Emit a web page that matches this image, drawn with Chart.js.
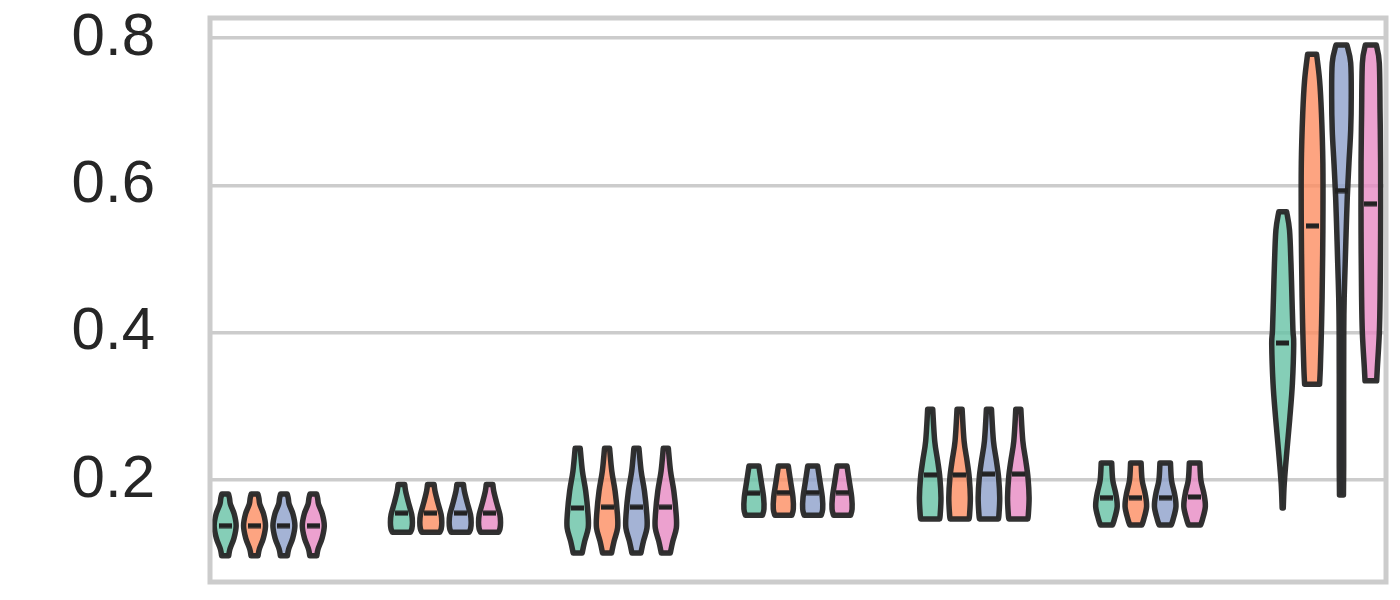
<!DOCTYPE html>
<html><head><meta charset="utf-8">
<script src="https://cdn.jsdelivr.net/npm/chart.js@4.4.1/dist/chart.umd.min.js"></script>
<style>html,body{margin:0;padding:0;background:#fff;}#wrap{width:1400px;height:600px;}</style>
</head><body><div id="wrap"><canvas id="c" width="1400" height="600"></canvas></div>
<script>
// ---- data ----
const categories = ['1','2','3','4','5','6','7'];
const seriesNames = ['A','B','C','D'];
const yTicks = [0.2, 0.4, 0.6, 0.8];
const medianA = [0.138, 0.155, 0.162, 0.182, 0.207, 0.176, 0.386];
const medianB = [0.138, 0.155, 0.163, 0.183, 0.207, 0.176, 0.545];
const medianC = [0.138, 0.155, 0.163, 0.183, 0.208, 0.176, 0.593];
const medianD = [0.138, 0.155, 0.163, 0.183, 0.208, 0.177, 0.575];
// violin profiles: [value, relative half width]
const profileG1 = [[0.181,0.30],[0.175,0.40],[0.167,0.48],[0.154,0.82],[0.138,1.0],[0.121,0.80],[0.106,0.43],[0.097,0.32]];
const profileG2 = [[0.194,0.30],[0.185,0.38],[0.171,0.61],[0.153,0.94],[0.142,1.0],[0.134,0.95],[0.129,0.82]];
const profileG3 = [[0.243,0.23],[0.212,0.43],[0.185,0.73],[0.154,0.94],[0.135,0.96],[0.117,0.64],[0.101,0.41]];
const profileG4 = [[0.219,0.45],[0.199,0.65],[0.176,0.88],[0.1605,0.91],[0.152,0.77]];
const profileG5 = [[0.296,0.23],[0.253,0.41],[0.226,0.68],[0.203,0.88],[0.176,0.98],[0.153,0.91],[0.147,0.86]];
const profileG6 = [[0.223,0.48],[0.200,0.57],[0.182,0.84],[0.164,0.98],[0.146,0.71],[0.139,0.55]];
const profileG7A = [[0.564,0.36],[0.539,0.62],[0.494,0.75],[0.448,0.84],[0.403,0.93],[0.385,1.0],[0.331,0.88],[0.285,0.65],[0.2395,0.38],[0.195,0.14],[0.162,0.05]];
const profileG7B = [[0.778,0.41],[0.743,0.68],[0.698,0.85],[0.63,0.98],[0.539,0.98],[0.448,0.91],[0.399,0.84],[0.352,0.75],[0.330,0.68]];
const profileG7C = [[0.7905,0.50],[0.766,0.84],[0.720,0.89],[0.675,0.84],[0.63,0.68],[0.584,0.53],[0.539,0.43],[0.494,0.34],[0.448,0.25],[0.403,0.21],[0.3075,0.20],[0.218,0.20],[0.1796,0.18]];
const profileG7D = [[0.7905,0.50],[0.766,0.77],[0.698,0.84],[0.63,0.89],[0.539,0.89],[0.448,0.84],[0.399,0.77],[0.352,0.59],[0.3347,0.53]];
const profilesA = [profileG1, profileG2, profileG3, profileG4, profileG5, profileG6, profileG7A];
const profilesB = [profileG1, profileG2, profileG3, profileG4, profileG5, profileG6, profileG7B];
const profilesC = [profileG1, profileG2, profileG3, profileG4, profileG5, profileG6, profileG7C];
const profilesD = [profileG1, profileG2, profileG3, profileG4, profileG5, profileG6, profileG7D];

// ---- styling / layout ----
const colors = [[102,194,165],[252,141,98],[141,160,203],[231,138,195]];
const dodge = [-0.25, -0.0833, 0.0833, 0.25];
const VIOLIN_HALF = 0.0624;
const allMedians = [medianA, medianB, medianC, medianD];
const allProfiles = [profilesA, profilesB, profilesC, profilesD];

// median marker glyph (dash)
const dash = document.createElement('canvas');
dash.width = 13; dash.height = 6;
(function () {
  const g = dash.getContext('2d');
  g.fillStyle = '#222222';
  g.fillRect(0, 0.5, 13, 5);
})();

function curveThrough(ctx, pts) {
  for (let i = 0; i < pts.length - 1; i++) {
    const p0 = pts[i - 1] || pts[i], p1 = pts[i], p2 = pts[i + 1], p3 = pts[i + 2] || pts[i + 1];
    const c1x = p1[0] + (p2[0] - p0[0]) / 6, c1y = p1[1] + (p2[1] - p0[1]) / 6;
    const c2x = p2[0] - (p3[0] - p1[0]) / 6, c2y = p2[1] - (p3[1] - p1[1]) / 6;
    ctx.bezierCurveTo(c1x, c1y, c2x, c2y, p2[0], p2[1]);
  }
}

const violinPlugin = {
  id: 'violins',
  beforeDatasetsDraw(chart) {
    const {ctx, scales: {x, y}} = chart;
    const half = x.getPixelForValue(VIOLIN_HALF) - x.getPixelForValue(0);
    ctx.save();
    allProfiles.forEach((profs, s) => {
      profs.forEach((pts, g) => {
        const cx = x.getPixelForValue(g + dodge[s]);
        const right = pts.map(([v, w]) => [cx + w * half, y.getPixelForValue(v)]);
        const left = pts.slice().reverse().map(([v, w]) => [cx - w * half, y.getPixelForValue(v)]);
        ctx.beginPath();
        ctx.moveTo(left[left.length - 1][0], left[left.length - 1][1]);
        ctx.lineTo(right[0][0], right[0][1]);
        curveThrough(ctx, right);
        ctx.lineTo(left[0][0], left[0][1]);
        curveThrough(ctx, left);
        ctx.closePath();
        const c = colors[s];
        ctx.fillStyle = `rgba(${c[0]},${c[1]},${c[2]},0.8)`;
        ctx.fill();
        ctx.lineJoin = 'round';
        ctx.lineWidth = 5.5;
        ctx.strokeStyle = 'rgba(38,38,38,0.95)';
        ctx.stroke();
      });
    });
    ctx.restore();
  },
  afterDraw(chart) {
    const {ctx, chartArea: a} = chart;
    ctx.save();
    ctx.strokeStyle = '#cccccc';
    ctx.lineWidth = 5;
    ctx.strokeRect(a.left, a.top, a.right - a.left, a.bottom - a.top);
    ctx.restore();
  }
};

Chart.defaults.font.family = 'Liberation Sans, Arial, sans-serif';

new Chart(document.getElementById('c'), {
  type: 'scatter',
  data: {
    datasets: seriesNames.map((name, s) => ({
      label: name,
      data: allMedians[s].map((m, g) => ({x: g + dodge[s], y: m})),
      pointStyle: dash,
      pointRadius: 6,
      pointHoverRadius: 6,
      showLine: false
    }))
  },
  options: {
    responsive: false,
    animation: false,
    devicePixelRatio: 1,
    layout: {padding: {top: 18, bottom: 18, right: 14, left: 0}},
    plugins: {legend: {display: false}, tooltip: {enabled: false}},
    scales: {
      x: {type: 'linear', min: -0.336, max: categories.length - 1 + 0.336, display: false},
      y: {
        type: 'linear', min: 0.0615, max: 0.8272,
        afterBuildTicks: (axis) => { axis.ticks = yTicks.map(v => ({value: v})); },
        afterFit: (scale) => { scale.width = 210; scale.paddingTop = 0; scale.paddingBottom = 0; },
        grid: {color: '#cccccc', lineWidth: 3.5, drawTicks: false},
        border: {display: false},
        ticks: {
          color: '#262626', padding: 55,
          font: {size: 60},
          callback: (v) => Number(v).toFixed(1)
        }
      }
    }
  },
  plugins: [violinPlugin]
});
</script>
</body></html>
